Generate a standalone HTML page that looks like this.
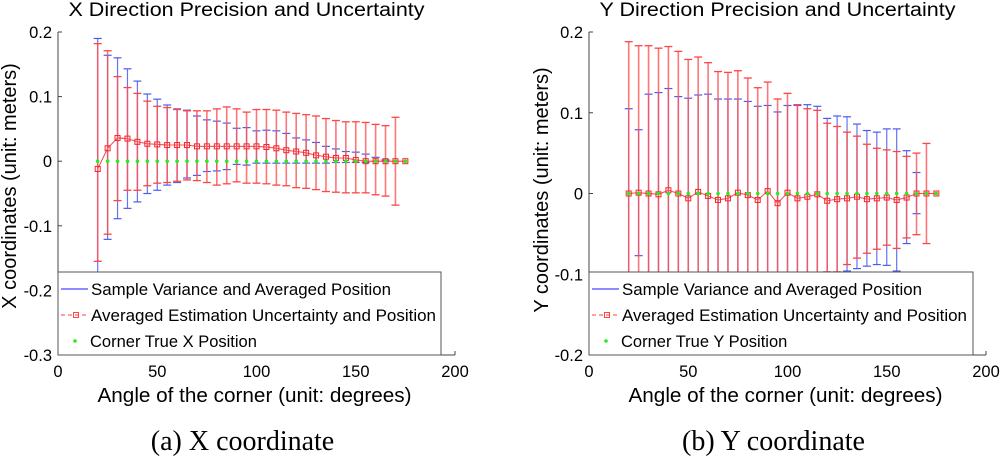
<!DOCTYPE html>
<html><head><meta charset="utf-8"><style>
body{margin:0;background:#fff;width:1000px;height:461px;overflow:hidden}
svg{font-family:"Liberation Sans",sans-serif}
</style></head><body>
<svg id="fig" width="1000" height="461"></svg>
<script>
const angles=[20,25,30,35,40,45,50,55,60,65,70,75,80,85,90,95,100,105,110,115,120,125,130,135,140,145,150,155,160,165,170,175];
const xMean=[-0.012,0.020,0.036,0.035,0.030,0.027,0.026,0.025,0.025,0.025,0.023,0.023,0.023,0.023,0.023,0.023,0.023,0.022,0.020,0.017,0.015,0.013,0.009,0.007,0.005,0.005,0.002,0,0,0,0,0];
const xRedUp=[0.182,0.171,0.131,0.114,0.105,0.093,0.085,0.083,0.080,0.078,0.078,0.078,0.081,0.084,0.081,0.076,0.080,0.080,0.079,0.076,0.074,0.072,0.070,0.066,0.063,0.061,0.061,0.060,0.057,0.055,0.068,0];
const xRedLo=[-0.155,-0.113,-0.061,-0.045,-0.045,-0.038,-0.034,-0.033,-0.031,-0.029,-0.030,-0.033,-0.037,-0.035,-0.032,-0.034,-0.034,-0.035,-0.037,-0.038,-0.041,-0.042,-0.044,-0.047,-0.048,-0.049,-0.049,-0.049,-0.052,-0.054,-0.068,0];
const xBlueUp=[0.190,0.164,0.160,0.143,0.124,0.104,0.096,0.087,0.081,0.079,0.070,0.064,0.062,0.059,0.051,0.052,0.047,0.048,0.047,0.043,0.036,0.033,0.029,0.023,0.019,0.015,0.014,0.011,0.006,0.002,0,0];
const xBlueLo=[-0.18,-0.121,-0.089,-0.073,-0.063,-0.050,-0.045,-0.037,-0.033,-0.026,-0.022,-0.016,-0.015,-0.013,-0.005,-0.006,-0.003,-0.003,-0.003,-0.003,-0.003,-0.003,-0.003,-0.003,-0.002,-0.002,-0.002,-0.002,0,0,0,0];
const yMean=[0,0.001,0,-0.001,0.004,0,-0.006,0.002,-0.003,-0.008,-0.006,0.001,-0.002,-0.008,0.003,-0.012,0.001,-0.006,-0.004,-0.001,-0.009,-0.007,-0.006,-0.004,-0.007,-0.006,-0.005,-0.008,-0.005,0,0,0];
const yRedUp=[0.188,0.183,0.183,0.180,0.182,0.176,0.166,0.169,0.162,0.151,0.150,0.152,0.143,0.131,0.138,0.117,0.124,0.110,0.105,0.103,0.087,0.083,0.076,0.071,0.061,0.056,0.054,0.052,0.046,0.050,0.062,0];
const yRedLo=[-0.188,-0.183,-0.183,-0.180,-0.182,-0.176,-0.166,-0.169,-0.162,-0.151,-0.150,-0.152,-0.143,-0.131,-0.138,-0.117,-0.124,-0.110,-0.105,-0.103,-0.097,-0.097,-0.088,-0.080,-0.074,-0.069,-0.064,-0.068,-0.055,-0.051,-0.062,0];
const yBlueUp=[0.105,0.079,0.123,0.125,0.130,0.120,0.118,0.122,0.123,0.117,0.117,0.117,0.114,0.108,0.109,0.101,0.109,0.109,0.110,0.108,0.093,0.096,0.095,0.086,0.078,0.076,0.080,0.080,0.053,0.026,0,0];
const yBlueLo=[-0.105,-0.077,-0.123,-0.125,-0.130,-0.120,-0.118,-0.122,-0.123,-0.117,-0.117,-0.117,-0.114,-0.108,-0.109,-0.101,-0.109,-0.109,-0.110,-0.108,-0.105,-0.102,-0.096,-0.093,-0.090,-0.088,-0.089,-0.096,-0.062,-0.025,0,0];
const xTicks=[0,50,100,150,200];
const xPanelYTicks=[0.2,0.1,0,-0.1,-0.2,-0.3];
const yPanelYTicks=[0.2,0.1,0,-0.1,-0.2];
const NS='http://www.w3.org/2000/svg';
const svg=document.getElementById('fig');
function el(tag,attrs,parent,text){const e=document.createElementNS(NS,tag);for(const k in attrs)e.setAttribute(k,attrs[k]);if(text!==undefined)e.textContent=text;(parent||svg).appendChild(e);return e;}
function panel(p){
  const g=el('g',{});
  
  
  const sx=v=>p.x0+(v-0)/200*(p.x1-p.x0);
  const sy=v=>p.yb+(v-p.ymin)/(p.ymax-p.ymin)*(p.yt-p.yb);
  const t=el('text',{x:(p.x0+p.x1)/2-10,y:16,'font-size':19,'text-anchor':'middle',textLength:356,lengthAdjust:'spacingAndGlyphs'},g,p.title);
  
  for(let i=0;i<angles.length;i++){
    const x=sx(angles[i]);
    const b=el('g',{},g);
    
    if(p.bu[i]!==0||p.bl[i]!==0){
      el('line',{x1:x,x2:x,y1:sy(p.bu[i]),y2:sy(p.bl[i]),stroke:'#4a5cf0','stroke-width':1.2,opacity:.85},b);
      el('line',{x1:x-4,x2:x+4,y1:sy(p.bu[i]),y2:sy(p.bu[i]),stroke:'#4a5cf0','stroke-width':1.2},b);
      el('line',{x1:x-4,x2:x+4,y1:sy(p.bl[i]),y2:sy(p.bl[i]),stroke:'#4a5cf0','stroke-width':1.2},b);
    }
    if(p.ru[i]!==0||p.rl[i]!==0){
      el('line',{x1:x,x2:x,y1:sy(p.ru[i]),y2:sy(p.rl[i]),stroke:'#f55','stroke-width':1.6,opacity:.8},b);
      el('line',{x1:x-4,x2:x+4,y1:sy(p.ru[i]),y2:sy(p.ru[i]),stroke:'#f44','stroke-width':1.3},b);
      el('line',{x1:x-4,x2:x+4,y1:sy(p.rl[i]),y2:sy(p.rl[i]),stroke:'#f44','stroke-width':1.3},b);
    }
  }
  el('polyline',{points:angles.map((a,i)=>sx(a)+','+sy(p.m[i])).join(' '),fill:'none',stroke:'#88f','stroke-width':1},g);
  const ln=el('polyline',{points:angles.map((a,i)=>sx(a)+','+sy(p.m[i])).join(' '),fill:'none',stroke:'#f55','stroke-width':1},g);
  
  angles.forEach((a,i)=>{
    const r=el('rect',{x:sx(a)-2.5,y:sy(p.m[i])-2.5,width:5,height:5,fill:'none',stroke:'#f22','stroke-width':1},g);
    
    const c=el('circle',{cx:sx(a),cy:sy(0),r:1.8,fill:'#2e2'},g);
    
  });
  const ax=el('path',{d:`M${p.x0},${p.yt}V${p.yb}H${p.x1}`,fill:'none',stroke:'#444','stroke-width':1},g);
  
  xTicks.forEach(v=>{
    el('line',{x1:sx(v),x2:sx(v),y1:p.yb,y2:p.yb-4,stroke:'#444'},g);
    const tt=el('text',{x:sx(v),y:p.yb+22,'font-size':16.5,'text-anchor':'middle'},g,String(v));
    
  });
  p.yticks.forEach(v=>{
    el('line',{x1:p.x0,x2:p.x0+4,y1:sy(v),y2:sy(v),stroke:'#444'},g);
    const tt=el('text',{x:p.x0-6,y:sy(v)+6,'font-size':16.5,'text-anchor':'end'},g,String(v));
    
  });
  const xt=el('text',{x:(p.x0+p.x1)/2-2,y:402,'font-size':20,'text-anchor':'middle',textLength:314,lengthAdjust:'spacingAndGlyphs'},g,'Angle of the corner (unit: degrees)');
  
  const yt=el('text',{x:0,y:0,'font-size':20,'text-anchor':'middle',transform:`translate(${p.ytx},${p.yty}) rotate(-90)`},g,p.ylabel);
  
  const lg=el('g',{},g);
  
  el('rect',{x:p.x0,y:272,width:p.lw,height:83,fill:'#fff',stroke:'#555','stroke-width':1},lg);
  const lx=p.x0;
  const e1=el('g',{},lg);
  el('line',{x1:lx+3,x2:lx+30,y1:289,y2:289,stroke:'#66f','stroke-width':1.5},e1);
  el('text',{x:lx+33,y:295,'font-size':16.5,textLength:300,lengthAdjust:'spacingAndGlyphs'},e1,'Sample Variance and Averaged Position');
  const e2=el('g',{},lg);
  el('line',{x1:lx+3,x2:lx+30,y1:315,y2:315,stroke:'#f66','stroke-width':1.3,'stroke-dasharray':'4,3'},e2);
  el('rect',{x:lx+15.5,y:312.5,width:5,height:5,fill:'none',stroke:'#f44'},e2);
  el('text',{x:lx+33,y:321,'font-size':16.5,textLength:345,lengthAdjust:'spacingAndGlyphs'},e2,'Averaged Estimation Uncertainty and Position');
  const e3=el('g',{},lg);
  el('circle',{cx:lx+17,cy:341,r:1.8,fill:'#2e2'},e3);
  el('text',{x:lx+32,y:347,'font-size':16.5},e3,p.legend3);
  const cap=el('text',{x:(p.x0+p.x1)/2-14,y:450,'font-size':28,'text-anchor':'middle','font-family':'Liberation Serif, serif','xml:space':'preserve'},g,p.caption);
  
}
panel({name:'x-direction-chart',title:'X Direction Precision and Uncertainty',x0:58,x1:455,yt:32,yb:355,ymin:-0.3,ymax:0.2,yticks:xPanelYTicks,
  m:xMean,ru:xRedUp,rl:xRedLo,bu:xBlueUp,bl:xBlueLo,ylabel:'X coordinates (unit: meters)',ytx:16,yty:186,lw:383,legend3:'Corner True X Position',caption:'(a)  X coordinate'});
panel({name:'y-direction-chart',title:'Y Direction Precision and Uncertainty',x0:589,x1:986,yt:32,yb:355,ymin:-0.2,ymax:0.2,yticks:yPanelYTicks,
  m:yMean,ru:yRedUp,rl:yRedLo,bu:yBlueUp,bl:yBlueLo,ylabel:'Y coordinates (unit: meters)',ytx:548,yty:190,lw:384,legend3:'Corner True Y Position',caption:'(b)  Y coordinate'});
</script>
</body></html>
